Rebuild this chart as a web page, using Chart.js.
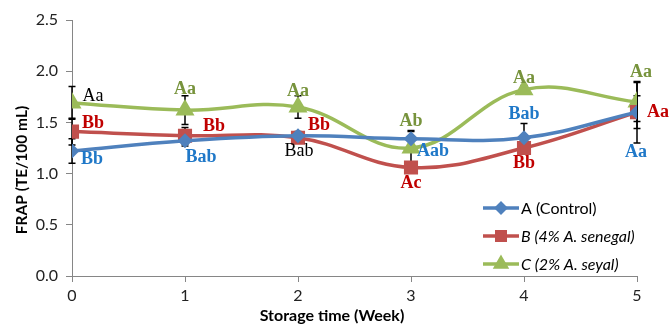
<!DOCTYPE html>
<html>
<head>
<meta charset="utf-8">
<script src="https://cdn.jsdelivr.net/npm/chart.js@4/dist/chart.umd.min.js"></script>
<style>
  html, body { margin: 0; padding: 0; background: #fff; }
  #wrap { width: 669px; height: 325px; position: relative; }
</style>
</head>
<body>
<div id="wrap"><canvas id="c" width="669" height="325"></canvas></div>
<script>
// Storage weeks
const weeks = [0, 1, 2, 3, 4, 5];

// FRAP means (TE/100 mL)
const controlA = [1.22, 1.32, 1.37, 1.34, 1.35, 1.60];
const senegalB = [1.41, 1.37, 1.35, 1.06, 1.25, 1.60];
const seyalC   = [1.69, 1.62, 1.65, 1.25, 1.82, 1.70];

// Standard deviations
const errA = [0.12, 0.05, 0.04, 0.08, 0.14, 0.30];
const errB = [0.13, 0.08, 0.04, 0.05, 0.05, 0.16];
const errC = [0.16, 0.14, 0.11, 0.16, 0.04, 0.19];

// Significance letters
const lettersA = ['Bb', 'Bab', 'Bab', 'Aab', 'Bab', 'Aa'];
const lettersB = ['Bb', 'Bb', 'Bb', 'Ac', 'Bb', 'Aa'];
const lettersC = ['Aa', 'Aa', 'Aa', 'Ab', 'Aa', 'Aa'];

const yTicks = [0, 0.5, 1.0, 1.5, 2.0, 2.5];

const BLUE = '#4F81BD', RED = '#C0504D', GREEN = '#9BBB59';
const BLUE_T = '#1F78C8', RED_T = '#C00000', GREEN_T = '#77933C';
const SANS = 'Lato, "Liberation Sans", sans-serif';

// letter placement relative to each point (px), plus colour / weight
const letterStyle = {
  0: [ // A
    {dx: 20, dy: 8, c: BLUE_T, b: true}, {dx: 16, dy: 17, c: BLUE_T, b: true},
    {dx: 1, dy: 16, c: '#000', b: false}, {dx: 22, dy: 13, c: BLUE_T, b: true},
    {dx: 0, dy: -23, c: BLUE_T, b: true}, {dx: -1, dy: 40, c: BLUE_T, b: true}
  ],
  1: [ // B
    {dx: 21, dy: -8, c: RED_T, b: true}, {dx: 29, dy: -9, c: RED_T, b: true},
    {dx: 21, dy: -12, c: RED_T, b: true}, {dx: 0, dy: 16, c: RED_T, b: true},
    {dx: 0, dy: 15, c: RED_T, b: true}, {dx: 21, dy: 0, c: RED_T, b: true}
  ],
  2: [ // C
    {dx: 21, dy: -7, c: '#000', b: false}, {dx: 0, dy: -21, c: GREEN_T, b: true},
    {dx: 0, dy: -16, c: GREEN_T, b: true}, {dx: 0, dy: -27, c: GREEN_T, b: true},
    {dx: 0, dy: -11, c: GREEN_T, b: true}, {dx: 4, dy: -30, c: GREEN_T, b: true}
  ]
};

const errorBars = {
  id: 'errorBars',
  beforeDatasetsDraw(chart) {
    const ctx = chart.ctx, y = chart.scales.y;
    const errs = [errA, errB, errC];
    ctx.save();
    ctx.strokeStyle = '#000';
    ctx.lineWidth = 1.5;
    chart.data.datasets.forEach((ds, i) => {
      const meta = chart.getDatasetMeta(i);
      meta.data.forEach((pt, j) => {
        const v = ds.data[j].y, e = errs[i][j];
        const yt = y.getPixelForValue(v + e), yb = y.getPixelForValue(v - e);
        const x = pt.x;
        ctx.beginPath();
        ctx.moveTo(x, yt); ctx.lineTo(x, yb);
        ctx.moveTo(x - 3.5, yt); ctx.lineTo(x + 3.5, yt);
        ctx.moveTo(x - 3.5, yb); ctx.lineTo(x + 3.5, yb);
        ctx.stroke();
      });
    });
    ctx.restore();
  }
};

const letterLabels = {
  id: 'letterLabels',
  afterDatasetsDraw(chart) {
    const ctx = chart.ctx;
    const letters = [lettersA, lettersB, lettersC];
    ctx.save();
    ctx.textAlign = 'center';
    ctx.textBaseline = 'middle';
    chart.data.datasets.forEach((ds, i) => {
      const meta = chart.getDatasetMeta(i);
      meta.data.forEach((pt, j) => {
        const s = letterStyle[i][j];
        ctx.font = (s.b ? 'bold ' : '') + '18px "Liberation Serif", "Times New Roman", serif';
        ctx.fillStyle = s.c;
        ctx.fillText(letters[i][j], pt.x + s.dx, pt.y + s.dy);
      });
    });
    ctx.restore();
  }
};

// Legend and axis titles, placed on the whole figure
const extras = {
  id: 'extras',
  afterDraw(chart) {
    const ctx = chart.ctx;
    const items = [
      {t: 'A (Control)', c: BLUE, s: 'rectRot', r: 4.5, it: false},
      {t: 'B (4% A. senegal)', c: RED, s: 'rect', r: 6, it: true},
      {t: 'C (2% A. seyal)', c: GREEN, s: 'triangle', r: 6, it: true}
    ];
    const x0 = 483, x1 = 519, ys = [208, 236, 264];
    ctx.save();
    items.forEach((it, k) => {
      const yy = ys[k];
      ctx.strokeStyle = it.c;
      ctx.lineWidth = 3.5;
      ctx.beginPath(); ctx.moveTo(x0, yy); ctx.lineTo(x1, yy); ctx.stroke();
      ctx.fillStyle = it.c;
      Chart.helpers.drawPoint(ctx, {pointStyle: it.s, radius: it.r, borderWidth: 1, rotation: 0}, (x0 + x1) / 2, yy);
      ctx.fillStyle = '#000';
      ctx.font = (it.it ? 'italic ' : '') + '16px ' + SANS;
      ctx.textAlign = 'left';
      ctx.textBaseline = 'middle';
      ctx.fillText(it.t, x1 + 2, yy + 1);
    });
    ctx.fillStyle = '#000';
    ctx.font = 'bold 16px ' + SANS;
    ctx.textAlign = 'center';
    ctx.textBaseline = 'middle';
    ctx.fillText('Storage time (Week)', 332, 316);
    ctx.translate(22, 170);
    ctx.rotate(-Math.PI / 2);
    ctx.font = 'bold 15.5px ' + SANS;
    ctx.fillText('FRAP (TE/100 mL)', 0, 0);
    ctx.restore();
  }
};

function series(vals) { return weeks.map((w, i) => ({x: w, y: vals[i]})); }

const mk = (label, vals, color, style, r) => ({
  label, data: series(vals),
  borderColor: color, backgroundColor: color,
  pointBackgroundColor: color, pointBorderColor: color,
  pointStyle: style, pointRadius: r, pointHoverRadius: r,
  borderWidth: 3.5, tension: 0.4, fill: false
});

new Chart(document.getElementById('c'), {
  type: 'line',
  data: {
    datasets: [
      mk('A (Control)', controlA, BLUE, 'rectRot', 5),
      mk('B (4% A. senegal)', senegalB, RED, 'rect', 7.5),
      mk('C (2% A. seyal)', seyalC, GREEN, 'triangle', 7.5)
    ]
  },
  options: {
    responsive: false,
    animation: false,
    devicePixelRatio: 1,
    layout: { padding: { top: 20, right: 32, left: 0, bottom: 0 } },
    plugins: { legend: { display: false }, tooltip: { enabled: false } },
    scales: {
      x: {
        type: 'linear', min: 0, max: 5,
        grid: { drawOnChartArea: false, drawTicks: true, tickLength: 6, color: '#868686' },
        border: { color: '#868686', width: 1 },
        ticks: { stepSize: 1, padding: 4, color: '#222', font: { family: 'Lato', size: 16 } },
        title: { display: false },
        afterFit(s) { s.height = 49; }
      },
      y: {
        min: 0, max: 2.5,
        grid: { drawOnChartArea: false, drawTicks: true, tickLength: 6, color: '#868686' },
        border: { color: '#868686', width: 1 },
        afterBuildTicks(s) { s.ticks = yTicks.map(v => ({value: v})); },
        ticks: { padding: 8, color: '#222', font: { family: 'Lato', size: 16 },
                 callback: v => Number(v).toFixed(1) },
        title: { display: false },
        afterFit(s) { s.width = 72; }
      }
    }
  },
  plugins: [errorBars, letterLabels, extras]
});
</script>
</body>
</html>
